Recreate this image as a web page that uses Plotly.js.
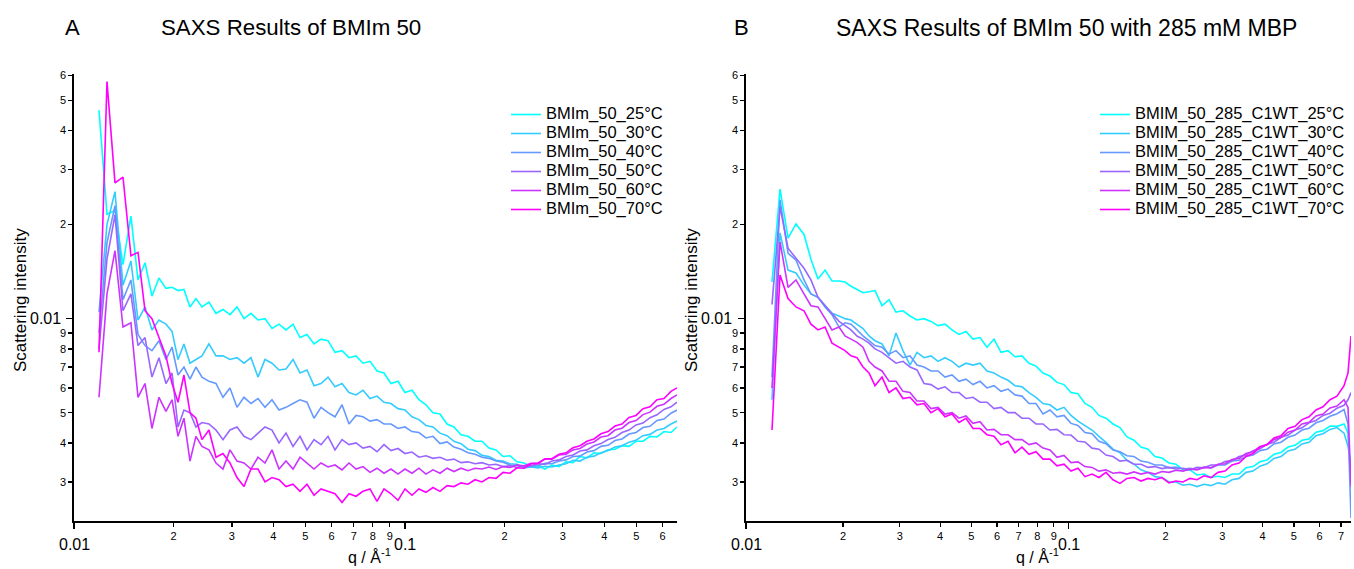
<!DOCTYPE html>
<html>
<head>
<meta charset="utf-8">
<script src="https://cdn.plot.ly/plotly-3.0.1.min.js"></script>
<style>html,body{margin:0;padding:0;background:#fff;}#chart{width:1354px;height:569px;}</style>
</head>
<body>
<div id="chart"></div>
<script>
// ---------- DATA ----------
const qLeft = [0.01190,0.01258,0.01330,0.01406,0.01486,0.01561,0.01639,0.01720,0.01806,0.01896,
0.01978,0.02062,0.02149,0.02241,0.02336,0.02436,0.02557,0.02685,0.02819,0.02960,
0.03108,0.03263,0.03425,0.03597,0.03776,0.03965,0.04163,0.04371,0.04589,0.04818,
0.05058,0.05311,0.05576,0.05854,0.06146,0.06453,0.06775,0.07113,0.07468,0.07841,
0.08232,0.08643,0.09074,0.09527,0.1000,0.1050,0.1102,0.1157,0.1215,0.1276,
0.1340,0.1406,0.1477,0.1550,0.1628,0.1709,0.1794,0.1884,0.1978,0.2077,
0.2180,0.2289,0.2403,0.2523,0.2649,0.2781,0.2920,0.3066,0.3219,0.3379,
0.3548,0.3725,0.3911,0.4106,0.4311,0.4526,0.4752,0.4989,0.5238,0.5499,
0.5774,0.6062,0.6364,0.6636];

const left25 = [0.0465,0.0216,0.0222,0.0149,0.0213,0.0133,0.0151,0.0118,0.0135,0.0125,
0.0126,0.0123,0.0124,0.0109,0.0116,0.0109,0.0113,0.0104,0.0107,0.0103,
0.0109,0.0100,0.0104,0.0099,0.0100,0.0093,0.0096,0.0092,0.0096,0.0087,
0.0089,0.0083,0.0086,0.0085,0.0078,0.0079,0.0075,0.0076,0.0072,0.0073,
0.0068,0.0067,0.0062,0.0063,0.0058,0.0059,0.0055,0.0053,0.0050,0.00495,
0.0046,0.0045,0.00425,0.0042,0.00405,0.00405,0.00385,0.0038,0.00362,0.00364,
0.00348,0.00345,0.00336,0.00338,0.0033,0.0034,0.00336,0.00348,0.00346,0.00362,
0.00358,0.00372,0.0037,0.0038,0.00382,0.00392,0.0039,0.00405,0.00405,0.0042,
0.00418,0.00435,0.00432,0.0045];
const left30 = [0.0105,0.0200,0.0255,0.0128,0.0153,0.0099,0.0109,0.0092,0.0099,0.0096,
0.0091,0.0074,0.0083,0.0072,0.0074,0.0076,0.0083,0.0076,0.0076,0.0074,
0.0075,0.0072,0.0075,0.0065,0.0074,0.0072,0.00685,0.0069,0.0074,0.0067,
0.00685,0.0061,0.0062,0.0065,0.00605,0.0062,0.0058,0.0057,0.0059,0.00555,
0.00565,0.0054,0.00535,0.00515,0.0051,0.00485,0.00475,0.00455,0.0045,0.0043,
0.00422,0.00405,0.00398,0.00382,0.00378,0.00365,0.00362,0.00352,0.0035,0.00343,
0.00342,0.00333,0.00335,0.00333,0.00337,0.00335,0.0034,0.00343,0.00352,0.0035,
0.0036,0.00363,0.00372,0.00378,0.00388,0.00392,0.00402,0.00408,0.00422,0.00426,
0.0044,0.00445,0.0046,0.0047];
const left40 = [0.0090,0.0175,0.0230,0.0115,0.0133,0.0089,0.0082,0.0079,0.0085,0.0074,
0.0081,0.0066,0.0070,0.0064,0.0070,0.0065,0.0063,0.0062,0.0056,0.0060,
0.0052,0.0056,0.00535,0.00555,0.0052,0.0055,0.0051,0.0052,0.00535,0.0055,
0.0054,0.0048,0.0052,0.0050,0.00485,0.0053,0.0046,0.0049,0.00485,0.0047,
0.00475,0.0046,0.0046,0.00445,0.0045,0.00435,0.00432,0.00415,0.0042,0.00398,
0.00403,0.00388,0.00382,0.00372,0.00368,0.0036,0.00357,0.0035,0.00347,0.0034,
0.00339,0.00336,0.00337,0.00338,0.00344,0.00343,0.0035,0.00353,0.00362,0.00363,
0.00374,0.00378,0.0039,0.00393,0.00407,0.00412,0.00427,0.00432,0.00448,0.00452,
0.00472,0.00477,0.00498,0.0051];
const left50 = [0.0080,0.0155,0.0215,0.0106,0.0120,0.0082,0.0087,0.0065,0.0075,0.0062,
0.0067,0.0045,0.0051,0.0050,0.0045,0.00465,0.0046,0.0044,0.0041,0.0044,
0.0045,0.0042,0.0041,0.0043,0.0045,0.0044,0.0040,0.0043,0.0039,0.0042,
0.0038,0.0041,0.00395,0.0042,0.0038,0.0041,0.00395,0.0040,0.00385,0.0039,
0.00375,0.00395,0.00378,0.00384,0.0037,0.00374,0.0036,0.00364,0.00357,0.0036,
0.00352,0.00355,0.00346,0.00348,0.00343,0.00346,0.0034,0.00342,0.00336,0.00338,
0.00334,0.00338,0.00338,0.00343,0.00342,0.0035,0.00353,0.00362,0.00366,0.00377,
0.0038,0.00392,0.00398,0.0041,0.00417,0.00432,0.0044,0.00457,0.00463,0.00482,
0.00492,0.00512,0.00522,0.0054];
const left60 = [0.0056,0.0120,0.0165,0.0094,0.0097,0.0056,0.0062,0.00445,0.0056,0.00505,
0.0055,0.0042,0.0048,0.0035,0.0042,0.0039,0.0038,0.00345,0.0033,0.0038,
0.0035,0.00345,0.0033,0.0036,0.00345,0.0038,0.0033,0.0035,0.0033,0.0036,
0.00345,0.0033,0.00345,0.00335,0.0034,0.00328,0.00345,0.0033,0.00336,0.00322,
0.00332,0.0032,0.0033,0.00318,0.0033,0.0032,0.00332,0.00318,0.00328,0.0032,
0.00332,0.00324,0.00332,0.00326,0.00332,0.0033,0.00335,0.00329,0.00336,0.00334,
0.0034,0.00338,0.00344,0.00345,0.00355,0.00355,0.00366,0.00368,0.0038,0.00384,
0.00397,0.00403,0.00418,0.00422,0.0044,0.00446,0.00465,0.00472,0.00493,0.00502,
0.00524,0.00532,0.00555,0.0057];
const left70 = [0.0078,0.0574,0.0272,0.0284,0.0159,0.0163,0.0106,0.0100,0.0087,0.0076,
0.0062,0.0054,0.0066,0.0050,0.0048,0.0041,0.0044,0.0036,0.0037,0.00345,
0.0031,0.0029,0.0033,0.0033,0.0030,0.0031,0.00305,0.0029,0.00295,0.0028,
0.00295,0.00272,0.00285,0.0028,0.00275,0.00258,0.00275,0.0027,0.0028,0.00285,
0.0026,0.00285,0.00275,0.00262,0.00285,0.00272,0.00285,0.00278,0.00288,0.0028,
0.00292,0.0029,0.00298,0.00295,0.00305,0.0030,0.0031,0.00308,0.00322,0.0032,
0.00333,0.00332,0.00343,0.00344,0.00356,0.00356,0.00368,0.00372,0.00386,0.00392,
0.00405,0.00412,0.00428,0.00435,0.00453,0.0046,0.00483,0.0049,0.00515,0.00522,
0.0055,0.00555,0.00585,0.0060];

const qRight = [0.01204,0.01275,0.01350,0.01429,0.01513,0.01590,0.01672,0.01758,0.01848,0.01943,
0.02028,0.02116,0.02209,0.02306,0.02407,0.02512,0.02641,0.02776,0.02918,0.03068,
0.03225,0.03390,0.03564,0.03747,0.03939,0.04141,0.04353,0.04576,0.04810,0.05057,
0.05316,0.05588,0.05875,0.06176,0.06492,0.06825,0.07175,0.07542,0.07929,0.08335,
0.08762,0.09211,0.09683,0.1018,0.1070,0.1125,0.1183,0.1243,0.1307,0.1374,
0.1444,0.1518,0.1596,0.1678,0.1764,0.1854,0.1949,0.2049,0.2154,0.2265,
0.2381,0.2503,0.2631,0.2766,0.2908,0.3057,0.3214,0.3379,0.3552,0.3734,
0.3925,0.4127,0.4338,0.4561,0.4794,0.5040,0.5298,0.5570,0.5855,0.6155,
0.6471,0.6802,0.7151,0.7357,0.7516];

const right25 = [0.0131,0.0260,0.0181,0.0201,0.0186,0.0155,0.0134,0.0143,0.0132,0.0132,
0.0131,0.0127,0.0124,0.0121,0.0122,0.0123,0.0110,0.0115,0.0105,0.0106,
0.0102,0.0099,0.0100,0.0098,0.0095,0.0096,0.0092,0.0089,0.0091,0.0086,
0.0087,0.0081,0.0086,0.0078,0.0079,0.00755,0.0076,0.0072,0.00705,0.0067,
0.00655,0.00625,0.00615,0.0058,0.00575,0.00535,0.0052,0.0049,0.0048,0.0046,
0.00448,0.00418,0.00408,0.00388,0.00382,0.00362,0.00358,0.00345,0.00342,0.00328,
0.00328,0.00316,0.00318,0.0031,0.00313,0.0031,0.00318,0.00318,0.00333,0.00336,
0.00348,0.00353,0.00368,0.00373,0.00388,0.00393,0.00408,0.00412,0.00433,0.00438,
0.00453,0.00452,0.0046,0.0043,0.0030];
const right30 = [0.0055,0.0188,0.0143,0.0140,0.0128,0.0120,0.0117,0.0110,0.0104,0.0102,
0.0100,0.0099,0.0096,0.0093,0.0088,0.0085,0.0083,0.0076,0.0090,0.0079,
0.0071,0.0078,0.0075,0.0076,0.0073,0.0075,0.0073,0.0070,0.0072,0.0071,
0.0072,0.0068,0.0067,0.0065,0.00635,0.0061,0.00605,0.0058,0.0056,0.00535,
0.0053,0.0051,0.0052,0.0049,0.0047,0.00455,0.0044,0.0042,0.00402,0.00382,
0.00372,0.00352,0.00342,0.00328,0.00322,0.00312,0.0031,0.0030,0.0030,0.00293,
0.00295,0.0029,0.00295,0.00292,0.00298,0.00295,0.00305,0.00308,0.00322,0.00325,
0.00337,0.00343,0.00357,0.00362,0.00377,0.00382,0.00397,0.00402,0.00422,0.00428,
0.00442,0.00448,0.0043,0.0039,0.0034];
const right40 = [0.0065,0.0240,0.0162,0.0154,0.0133,0.0120,0.0117,0.0109,0.0103,0.0094,
0.0097,0.0096,0.0092,0.0088,0.0085,0.0082,0.0081,0.0077,0.0079,0.0075,
0.0076,0.0071,0.0070,0.0068,0.0068,0.0065,0.0066,0.0063,0.0064,0.00615,
0.0063,0.0060,0.0061,0.00585,0.00595,0.0057,0.00565,0.00535,0.00535,0.00495,
0.0051,0.00485,0.0049,0.00462,0.00455,0.00432,0.00428,0.00405,0.00398,0.0038,
0.00375,0.00364,0.00362,0.0035,0.00347,0.0034,0.0034,0.00333,0.00335,0.0033,
0.00332,0.00329,0.00335,0.00333,0.0034,0.0034,0.0035,0.00352,0.00362,0.00366,
0.00378,0.00382,0.00397,0.00402,0.00417,0.00424,0.0044,0.00446,0.00464,0.00472,
0.00487,0.00496,0.00512,0.0046,0.0023];
const right50 = [0.0111,0.0228,0.0168,0.0156,0.0145,0.0133,0.0117,0.0110,0.0104,0.0098,
0.0095,0.0092,0.0088,0.0086,0.00835,0.0080,0.0078,0.0075,0.0072,0.0073,
0.0070,0.00685,0.0062,0.00615,0.00595,0.00605,0.0058,0.0058,0.00555,0.0056,
0.0054,0.0054,0.00515,0.0052,0.0050,0.0050,0.0048,0.0048,0.0046,0.0046,
0.0044,0.00442,0.00425,0.00424,0.00405,0.00403,0.00385,0.00382,0.00366,0.00362,
0.0035,0.00352,0.00342,0.00342,0.00334,0.00336,0.00331,0.00334,0.0033,0.00332,
0.00328,0.00334,0.00333,0.0034,0.0034,0.00349,0.00351,0.00362,0.00366,0.00378,
0.00383,0.00396,0.00402,0.00417,0.00424,0.0044,0.00447,0.00464,0.00472,0.0049,
0.00498,0.00517,0.00528,0.0055,0.0058];
const right60 = [0.0060,0.0176,0.0126,0.0133,0.0120,0.0110,0.0109,0.0100,0.0092,0.0094,
0.0088,0.0086,0.0084,0.0081,0.0073,0.0070,0.0068,0.0063,0.0063,0.00585,
0.0058,0.00545,0.00545,0.00515,0.0052,0.00495,0.0050,0.0048,0.00488,0.00462,
0.00468,0.0044,0.00442,0.00425,0.00425,0.0041,0.0041,0.00395,0.0040,0.00385,
0.0038,0.0036,0.00365,0.00346,0.00348,0.00336,0.00334,0.00325,0.00328,0.0032,
0.00322,0.00318,0.00323,0.00318,0.00322,0.00318,0.00324,0.00322,0.00327,0.00325,
0.0033,0.00328,0.00334,0.00333,0.00342,0.00343,0.00354,0.00357,0.0037,0.00375,
0.0039,0.00395,0.0041,0.00416,0.00433,0.0044,0.0046,0.00466,0.00488,0.00495,
0.00518,0.00525,0.0055,0.0052,0.0029];
const right70 = [0.0044,0.0138,0.0116,0.0109,0.0106,0.0096,0.0092,0.0094,0.00835,0.0081,
0.0079,0.0076,0.0075,0.0070,0.0067,0.0061,0.0065,0.0058,0.0060,0.00555,
0.0056,0.0053,0.00535,0.0050,0.00515,0.00485,0.00495,0.00465,0.0048,0.00445,
0.00445,0.00425,0.0042,0.00395,0.00405,0.00372,0.00388,0.00368,0.00375,0.00355,
0.00355,0.00338,0.00342,0.00325,0.00332,0.00312,0.00318,0.0031,0.00322,0.00305,
0.00297,0.00308,0.0031,0.00302,0.00308,0.00305,0.0031,0.00298,0.00302,0.0030,
0.00308,0.00305,0.00314,0.0031,0.00322,0.00325,0.0034,0.00345,0.00362,0.0037,
0.00388,0.00395,0.00415,0.00422,0.00445,0.00452,0.00475,0.00485,0.0051,0.00522,
0.0055,0.00565,0.0061,0.0067,0.0088];

const leftNames = ['BMIm_50_25°C','BMIm_50_30°C','BMIm_50_40°C','BMIm_50_50°C','BMIm_50_60°C','BMIm_50_70°C'];
const rightNames = ['BMIM_50_285_C1WT_25°C','BMIM_50_285_C1WT_30°C','BMIM_50_285_C1WT_40°C','BMIM_50_285_C1WT_50°C','BMIM_50_285_C1WT_60°C','BMIM_50_285_C1WT_70°C'];
const yTickVals = [0.003,0.004,0.005,0.006,0.007,0.008,0.009,0.02,0.03,0.04,0.05,0.06];
const yTickText = ['3','4','5','6','7','8','9','2','3','4','5','6'];
const yMajorVals = [0.01];
const yMajorText = ['0.01'];
const xTickValsL = [0.02,0.03,0.04,0.05,0.06,0.07,0.08,0.09,0.2,0.3,0.4,0.5,0.6];
const xTickTextL = ['2','3','4','5','6','7','8','9','2','3','4','5','6'];
const xTickValsR = [0.02,0.03,0.04,0.05,0.06,0.07,0.08,0.09,0.2,0.3,0.4,0.5,0.6,0.7];
const xTickTextR = ['2','3','4','5','6','7','8','9','2','3','4','5','6','7'];
const xMajorVals = [0.01,0.1];
const xMajorText = ['0.01','0.1'];

// ---------- STYLE ----------
const colors = ['#00ffff','#33ccff','#6699ff','#9966ff','#cc33ff','#ff00ff'];
const W = 1354, H = 569;
const FONT = '"Liberation Sans", Arial, sans-serif';
const leftSeries = [left25,left30,left40,left50,left60,left70];
const rightSeries = [right25,right30,right40,right50,right60,right70];
const legendText = n => '<span style="font-size:16.5px">' + n + '</span>';

const traces = [];
leftSeries.forEach((ys,i)=>traces.push({x:qLeft,y:ys,type:'scatter',mode:'lines',name:legendText(leftNames[i]),
  line:{color:colors[i],width:1.6},xaxis:'x',yaxis:'y',legend:'legend'}));
rightSeries.forEach((ys,i)=>traces.push({x:qRight,y:ys,type:'scatter',mode:'lines',name:legendText(rightNames[i]),
  line:{color:colors[i],width:1.6},xaxis:'x2',yaxis:'y2',legend:'legend2'}));

const yTop = 74, yBot = 521;
const yRange = [Math.log10(0.00225), Math.log10(0.0607)];
const axBase = {type:'log',showline:true,linecolor:'#000',linewidth:1.6,ticks:'outside',ticklen:4,tickwidth:1.2,
  tickcolor:'#000',showgrid:false,zeroline:false,tickfont:{size:11,family:FONT,color:'#000'},tickmode:'array'};
const xMinor = {tickmode:'array',tickvals:xMajorVals,ticks:'outside',ticklen:6,tickwidth:1.4,tickcolor:'#000',showgrid:false};
const yMinor = {tickmode:'array',tickvals:yMajorVals,ticks:'outside',ticklen:6,tickwidth:1.4,tickcolor:'#000',showgrid:false};

const annotations = [
  {text:'A',x:72/W,y:1-28/H,xref:'paper',yref:'paper',showarrow:false,xanchor:'center',yanchor:'middle',font:{size:22}},
  {text:'SAXS Results of BMIm 50',x:291/W,y:1-28/H,xref:'paper',yref:'paper',showarrow:false,xanchor:'center',yanchor:'middle',font:{size:22.3}},
  {text:'B',x:741/W,y:1-28/H,xref:'paper',yref:'paper',showarrow:false,xanchor:'center',yanchor:'middle',font:{size:22}},
  {text:'SAXS Results of BMIm 50 with 285 mM MBP',x:1066/W,y:1-28/H,xref:'paper',yref:'paper',showarrow:false,xanchor:'center',yanchor:'middle',font:{size:23}},
  {text:'Scattering intensity',textangle:-90,x:20/W,y:1-300/H,xref:'paper',yref:'paper',showarrow:false,xanchor:'center',yanchor:'middle',font:{size:17}},
  {text:'Scattering intensity',textangle:-90,x:691/W,y:1-300/H,xref:'paper',yref:'paper',showarrow:false,xanchor:'center',yanchor:'middle',font:{size:17}},
  {text:'q / Å<sup>-1</sup>',x:369/W,y:1-556/H,xref:'paper',yref:'paper',showarrow:false,xanchor:'center',yanchor:'middle',font:{size:16}},
  {text:'q / Å<sup>-1</sup>',x:1037/W,y:1-556/H,xref:'paper',yref:'paper',showarrow:false,xanchor:'center',yanchor:'middle',font:{size:16}}
];
['x','x2'].forEach(ax=>xMajorVals.forEach((v,i)=>annotations.push({text:xMajorText[i],x:Math.log10(v),xref:ax,
  y:1-544/H,yref:'paper',showarrow:false,xanchor:'center',yanchor:'middle',font:{size:16}})));
[['y',63],['y2',734]].forEach(([ax,px])=>yMajorVals.forEach((v,i)=>annotations.push({text:yMajorText[i],x:px/W,xref:'paper',
  y:Math.log10(v),yref:ax,showarrow:false,xanchor:'right',yanchor:'middle',font:{size:16}})));

const layout = {
  width:W,height:H,margin:{l:0,r:0,t:0,b:0},paper_bgcolor:'#fff',plot_bgcolor:'#fff',
  font:{family:FONT,color:'#000'},
  xaxis:Object.assign({},axBase,{domain:[74/W,677/W],range:[-2,Math.log10(0.6636)],tickvals:xTickValsL,ticktext:xTickTextL,anchor:'y',minor:xMinor}),
  yaxis:Object.assign({},axBase,{domain:[1-yBot/H,1-yTop/H],range:yRange,tickvals:yTickVals,ticktext:yTickText,anchor:'x',minor:yMinor}),
  xaxis2:Object.assign({},axBase,{domain:[746/W,1351/W],range:[-2,Math.log10(0.7516)],tickvals:xTickValsR,ticktext:xTickTextR,anchor:'y2',minor:xMinor}),
  yaxis2:Object.assign({},axBase,{domain:[1-yBot/H,1-yTop/H],range:yRange,tickvals:yTickVals,ticktext:yTickText,anchor:'x2',minor:yMinor}),
  legend:{x:506/W,y:1-100/H,xanchor:'left',yanchor:'top',bgcolor:'rgba(0,0,0,0)',font:{size:12,family:FONT,color:'#000'}},
  legend2:{x:1095/W,y:1-100/H,xanchor:'left',yanchor:'top',bgcolor:'rgba(0,0,0,0)',font:{size:12,family:FONT,color:'#000'}},
  annotations:annotations
};

Plotly.newPlot('chart',traces,layout,{displayModeBar:false,staticPlot:true});
</script>
</body>
</html>
